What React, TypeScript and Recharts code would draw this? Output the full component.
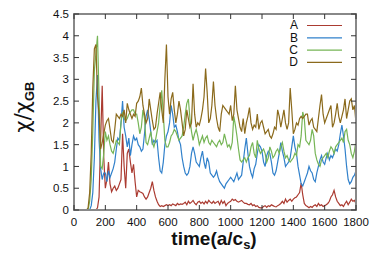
import { LineChart, Line, XAxis, YAxis } from "recharts";

// sampled every STEP time units, from t = 0 to 1800
const STEP = 10;

const seriesA = [
  0, 0, 0, 0, 0, 0, 0, 0, 0, 0,
  0, 0, 0, 0, 0, 0.05, 0.3, 1.6, 2.85, 1.2,
  0.5, 0.7, 1.1, 0.6, 0.42, 0.5, 0.55, 0.45, 0.5, 0.6,
  0.7, 1.75, 1.0, 0.5, 1.3, 1.4, 1.1, 0.85, 1.05, 0.65,
  0.3, 0.45, 0.42, 0.4, 0.38, 0.3, 0.25, 0.3, 0.4, 0.5,
  0.65, 0.45, 0.3, 0.2, 0.12, 0.08, 0.1, 0.08, 0.1, 0.12,
  0.1, 0.12, 0.1, 0.14, 0.12, 0.1, 0.15, 0.12, 0.14, 0.13,
  0.15, 0.18, 0.12, 0.2, 0.15, 0.18, 0.22, 0.16, 0.12, 0.18,
  0.2, 0.15, 0.18, 0.14, 0.2, 0.15, 0.22, 0.18, 0.15, 0.2,
  0.15, 0.18, 0.2, 0.12, 0.22, 0.15, 0.2, 0.1, 0.15, 0.18,
  0.2, 0.25, 0.22, 0.24, 0.2, 0.18, 0.2, 0.22, 0.18, 0.15,
  0.15, 0.13, 0.12, 0.15, 0.1, 0.12, 0.08, 0.1, 0.06, 0.05,
  0.05, 0.08, 0.1, 0.06, 0.1, 0.08, 0.12, 0.1, 0.08, 0.07,
  0.1, 0.12, 0.15, 0.2, 0.15, 0.25, 0.18, 0.22, 0.25, 0.2,
  0.25, 0.28, 0.3, 0.35, 0.4, 0.62, 0.35, 0.15, 0.1, 0.08,
  0.05, 0.08, 0.06, 0.1, 0.12, 0.08, 0.15, 0.1, 0.12, 0.08,
  0.1, 0.12, 0.15, 0.2, 0.3, 0.35, 0.45, 0.3, 0.2, 0.15,
  0.1, 0.12, 0.08, 0.15, 0.2, 0.12, 0.18, 0.25, 0.2, 0.22,
  0.15,
];

const seriesB = [
  0, 0, 0, 0, 0, 0, 0, 0, 0, 0,
  0, 0.1, 0.4, 1.2, 2.5, 3.1, 1.6, 0.95, 0.7, 0.85,
  0.85, 0.65, 0.9, 0.75, 0.85, 0.95, 1.1, 1.4, 1.65, 1.6,
  2.0, 2.5, 1.9, 1.7, 1.45, 1.65, 1.25, 1.5, 1.7, 1.6,
  1.65, 1.5, 1.45, 1.35, 1.4, 1.75, 2.15, 2.3, 2.1, 1.8,
  1.5, 1.6, 1.55, 1.6, 1.2, 0.9, 0.85, 1.1, 1.5, 1.7,
  1.8, 2.0, 2.4, 2.2, 1.9, 1.95, 1.8, 1.6, 1.5, 1.2,
  1.0, 0.85, 0.8, 0.85, 1.0, 1.3, 1.45, 1.3, 1.1, 1.05,
  1.0, 1.2, 1.35, 1.1, 0.95, 1.2, 1.1, 0.85, 0.8, 0.75,
  0.8, 0.9, 0.75, 0.65, 0.6, 0.55, 0.5, 0.6, 0.65, 0.7,
  0.75, 0.7, 0.65, 0.75, 0.85, 0.7, 0.75, 0.8, 1.1, 1.4,
  1.65, 1.3, 1.0, 0.85, 0.75, 0.95, 1.05, 1.3, 1.5, 1.45,
  1.35, 1.1, 1.0, 1.25, 1.35, 1.3, 1.1, 0.85, 0.8, 0.9,
  1.1, 1.3, 1.55, 1.35, 1.2, 1.0, 1.05, 1.1, 1.2, 1.45,
  1.7, 1.45, 1.3, 1.0, 0.8, 0.6, 0.55, 0.65, 0.75, 0.85,
  1.0, 0.9, 0.85, 0.7, 0.65, 0.85, 1.0, 1.15, 1.25, 1.1,
  1.05, 1.2, 1.3, 1.15, 1.25, 1.2, 1.3, 1.4, 1.35, 1.5,
  1.75, 1.95, 1.7, 1.4, 1.0, 0.7, 0.6, 0.65, 0.75, 0.8,
  0.9,
];

const seriesC = [
  0, 0, 0, 0, 0, 0, 0, 0, 0, 0,
  0.2, 0.7, 1.8, 3.2, 3.6, 4.0, 2.6, 1.0, 0.95, 1.3,
  1.8, 1.6, 1.7, 1.5, 1.35, 1.3, 1.45, 1.6, 1.55, 1.5,
  2.0, 2.25, 2.1, 2.05, 2.1, 2.2, 2.25, 2.3, 2.3, 2.2,
  2.2, 2.0, 1.75, 1.9, 2.3, 2.1, 1.55, 1.5, 1.65, 1.8,
  1.55, 1.45, 1.6, 1.8, 2.0, 2.4, 2.75, 2.2, 1.6, 1.45,
  1.45, 1.55, 1.7, 1.75, 1.85, 1.8, 1.7, 1.6, 1.65, 1.7,
  1.9, 2.2, 2.45, 2.55, 2.1, 1.8, 1.6, 1.75, 1.85, 1.7,
  1.5, 1.6, 1.7, 1.55, 1.65, 1.7, 1.55, 1.5, 1.6, 1.55,
  1.5, 1.45, 1.55, 1.6, 1.5, 1.55, 1.75, 1.6, 1.45, 1.5,
  1.4, 1.55, 2.15, 1.95, 1.7, 1.4, 1.15, 1.1, 1.15, 1.2,
  1.1, 1.2, 1.25, 1.45, 1.55, 1.3, 1.2, 1.6, 1.4, 1.3,
  1.35, 1.4, 1.3, 1.1, 1.2, 1.45, 1.35, 1.2, 1.25, 1.35,
  1.4, 1.3, 1.45, 1.55, 1.35, 1.2, 1.25, 1.15, 1.1, 1.15,
  1.2, 1.3, 1.25, 1.5, 1.45, 1.7, 2.25, 2.1, 1.6, 1.55,
  1.5, 1.6, 1.85, 1.7, 1.3, 1.15, 1.05, 1.0, 1.15, 1.2,
  1.25, 1.3, 1.2, 1.35, 1.45, 1.4, 1.3, 1.45, 1.5, 1.55,
  1.6, 1.65, 1.55, 1.8, 1.85, 1.6, 1.5, 1.3, 1.2, 1.35,
  1.6,
];

const seriesD = [
  0, 0, 0, 0, 0, 0, 0, 0, 0, 0.05,
  0.4, 1.3, 2.8, 3.7, 3.8, 2.6, 2.2, 1.4, 1.55, 1.75,
  1.95, 2.05, 2.1, 1.85, 1.6, 1.55, 1.85, 2.2, 2.15, 2.1,
  2.2, 2.15, 2.3, 2.0, 2.45, 2.3, 2.2, 2.1, 2.2, 2.15,
  2.45, 2.5, 2.6, 2.8, 2.4, 2.2, 2.0, 2.1, 2.55, 2.3,
  2.05, 1.85, 1.9, 2.2, 2.45, 2.7, 2.3, 2.0, 3.0, 3.8,
  2.6, 2.2, 2.55, 2.7, 2.3, 2.0, 2.2, 2.5, 2.3, 2.0,
  1.7, 1.85, 2.3, 2.1, 1.9, 2.0, 2.9, 2.2, 1.9, 2.0,
  1.95, 2.1, 2.3, 2.6, 3.25, 2.7, 2.0, 2.1, 2.4, 2.95,
  2.4, 2.1, 1.9, 1.8, 2.2, 2.4, 2.35, 2.3, 2.25, 2.2,
  2.4, 2.05, 2.2, 2.85, 2.3, 2.1, 1.9, 1.8, 2.1, 1.75,
  2.0, 2.15, 2.35, 2.0, 1.85, 1.95, 1.9, 2.2, 1.85, 2.0,
  2.05, 1.9, 1.75, 1.8, 1.85, 1.7, 1.65, 1.75, 1.9, 1.85,
  2.3, 2.15, 1.9, 2.1, 2.3, 2.0, 1.85, 2.0, 2.8, 2.3,
  1.75, 1.85, 2.0, 1.95, 2.1, 2.15, 2.1, 2.15, 2.2, 2.2,
  1.95, 2.05, 2.1, 1.9, 1.85, 1.8, 2.1, 2.4, 2.65, 2.2,
  2.0, 2.1, 2.2, 2.3, 2.4, 1.9, 2.0, 2.2, 2.45, 2.15,
  2.0, 2.15, 2.3, 2.55, 2.1, 2.3, 2.5, 2.55, 2.3, 2.4,
  2.0,
];

const seriesNames = ["A", "B", "C", "D"];
const seriesColors = ["#ab3b31", "#3181cb", "#76b556", "#8b6a1c"];
const xTicks = [0, 200, 400, 600, 800, 1000, 1200, 1400, 1600, 1800];
const yTicks = [0, 0.5, 1, 1.5, 2, 2.5, 3, 3.5, 4, 4.5];

const data = seriesA.map((a, i) => ({
  t: i * STEP,
  A: a,
  B: seriesB[i],
  C: seriesC[i],
  D: seriesD[i],
}));

// plot box (chart margins + axis sizes)
const W = 374;
const H = 261;
const PL = 74;
const PR = 356;
const PT = 14;
const PB = 210;
const X_MAX = 1800;
const Y_MAX = 4.5;
const TICK = 5;

const FONT = "Liberation Sans";
const tickFont = { fontSize: 11.5, fill: "#111", fontFamily: FONT };

const px = (t: number) => PL + (t / X_MAX) * (PR - PL);
const py = (v: number) => PB - (v / Y_MAX) * (PB - PT);

export default function App() {
  return (
    <div style={{ position: "absolute", left: 0, top: 0, width: W, height: H }}>
      <LineChart
        width={W}
        height={H}
        data={data}
        margin={{ top: PT, right: W - PR, bottom: 0, left: 0 }}
      >
        <XAxis
          dataKey="t"
          type="number"
          domain={[0, X_MAX]}
          ticks={xTicks}
          height={H - PB}
          axisLine={false}
          tickLine={false}
          tickSize={0}
          tickMargin={8}
          tick={tickFont}
          interval={0}
        />
        <YAxis
          type="number"
          domain={[0, Y_MAX]}
          ticks={yTicks}
          width={PL}
          axisLine={false}
          tickLine={false}
          tickSize={0}
          tickMargin={5}
          tick={tickFont}
          interval={0}
        />
        {seriesNames.map((n, i) => (
          <Line
            key={n}
            dataKey={n}
            stroke={seriesColors[i]}
            strokeWidth={1.2}
            dot={false}
            type="linear"
            isAnimationActive={false}
          />
        ))}
      </LineChart>
      {/* border drawn as a plain box as well */}
      <div
        style={{
          position: "absolute",
          left: PL - 1,
          top: PT - 1,
          width: PR - PL + 2,
          height: PB - PT + 2,
          boxSizing: "border-box",
          border: "2px solid #888",
          pointerEvents: "none",
        }}
      />
      <svg
        width={W}
        height={H}
        style={{ position: "absolute", left: 0, top: 0, pointerEvents: "none" }}
      >
        <rect
          x={PL}
          y={PT}
          width={PR - PL}
          height={PB - PT}
          fill="none"
          stroke="#888"
          strokeWidth={2}
        />
        {xTicks.map((t) => (
          <g key={`x${t}`} stroke="#333" strokeWidth={1}>
            <line x1={px(t)} x2={px(t)} y1={PB} y2={PB - TICK} />
            <line x1={px(t)} x2={px(t)} y1={PT} y2={PT + TICK} />
          </g>
        ))}
        {yTicks.map((v) => (
          <g key={`y${v}`} stroke="#333" strokeWidth={1}>
            <line x1={PL} x2={PL + TICK} y1={py(v)} y2={py(v)} />
            <line x1={PR} x2={PR - TICK} y1={py(v)} y2={py(v)} />
          </g>
        ))}
        {seriesNames.map((n, i) => (
          <g key={n}>
            <text
              x={298}
              y={25 + i * 12.3}
              dy="0.36em"
              textAnchor="end"
              fontFamily={FONT}
              fontSize={12}
              fill="#111"
            >
              {n}
            </text>
            <line
              x1={307}
              x2={342}
              y1={25.5 + i * 12.3}
              y2={25.5 + i * 12.3}
              stroke={seriesColors[i]}
              strokeWidth={1.2}
            />
          </g>
        ))}
        <text
          x={214}
          y={245}
          textAnchor="middle"
          fontFamily={FONT}
          fontWeight="bold"
          fontSize={19}
          fill="#111"
        >
          time(a/c
          <tspan fontSize={13} dy={4}>
            s
          </tspan>
          <tspan dy={-4}>)</tspan>
        </text>
        <text
          transform="translate(30,107) rotate(-90)"
          textAnchor="middle"
          fontFamily="DejaVu Sans"
          fontSize={21}
          fill="#111"
        >
          χ/χ
          <tspan fontWeight="bold" fontSize={13} dy={4} fontFamily={FONT}>
            GB
          </tspan>
        </text>
      </svg>
    </div>
  );
}
